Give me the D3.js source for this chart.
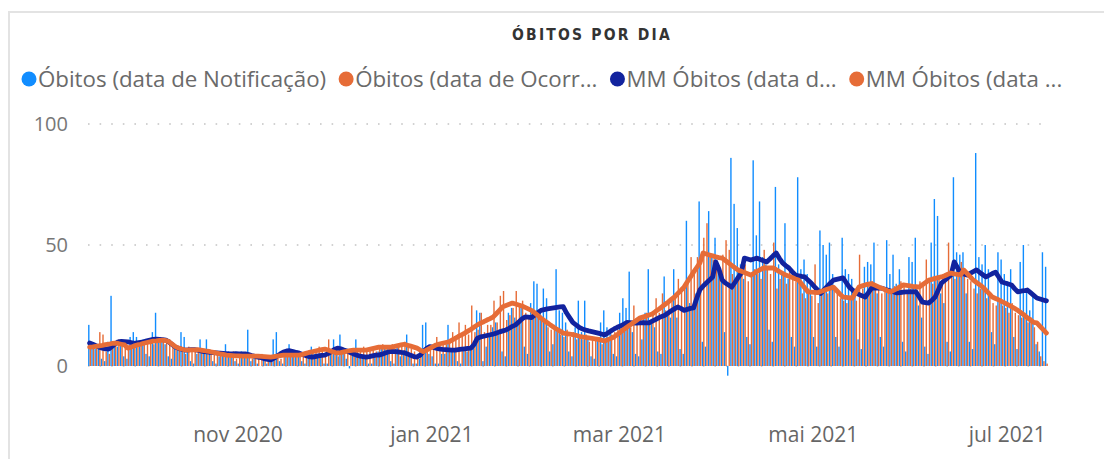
<!DOCTYPE html>
<html lang="pt">
<head>
<meta charset="UTF-8">
<title>Óbitos por dia</title>
<script src="https://d3js.org/d3.v7.min.js"></script>
<style>
  body { margin: 0; background: #fff; }
  svg { display: block; font-family: "Segoe UI", "Open Sans", "Noto Sans", sans-serif; }
</style>
</head>
<body>
<div id="chart"></div>
<script>
// first day of the series, one value per day after it
var startDay = "2020-09-15";

var obitosNotificacao = [
  17, 8, 7, 9, 3, 2, 10,   29, 9, 8, 10, 4, 3, 12,   14, 12, 10, 11, 5, 4, 14,
  22, 11, 10, 9, 4, 3, 9,  8, 14, 12, 7, 2, 1, 5,    11, 6, 11, 5, 2, 1, 4,
  5, 9, 6, 5, 2, 1, 6,     4, 15, 2, 3, 1, 0, 3,     1, 2, 11, 14, 2, 1, 5,
  9, 7, 6, 6, 2, 1, 5,     8, 5, 4, 5, 1, 1, 5,      11, 6, 13, 7, 3, -1, 6,
  11, 4, 3, 4, 1, 1, 4,    6, 7, 8, 7, 2, 1, 8,      4, 5, 13, 4, 1, 1, 3,
  17, 18, 5, 4, 1, 1, 5,   5, 17, 7, 6, 2, 1, 8,     6, 7, 9, 23, 22, 2, 8,
  13, 16, 18, 15, 6, 4, 22, 24, 20, 18, 24, 8, 5, 26, 35, 34, 22, 32, 28, 6, 9,
  40, 23, 22, 18, 6, 4, 16, 27, 14, 27, 12, 4, 3, 12, 18, 23, 16, 14, 5, 4, 22,
  28, 24, 39, 14, 5, 4, 11, 22, 40, 18, 16, 6, 5, 37, 22, 20, 40, 20, 7, 5, 60,
  26, 24, 30, 68, 10, 8, 64, 45, 53, 40, 35, 14, -4, 86, 67, 57, 42, 36, 12, 9, 85,
  54, 68, 45, 42, 15, 10, 74, 42, 38, 59, 36, 12, 8, 78, 40, 44, 38, 34, 12, 8, 56,
  50, 46, 51, 38, 12, 8, 53, 40, 38, 36, 32, 11, 7, 41, 43, 42, 51, 30, 12, 8, 52,
  38, 46, 34, 40, 10, 6, 45, 43, 53, 25, 20, 8, 5, 51, 69, 62, 30, 26, 10, 6, 78,
  47, 46, 47, 30, 10, 7, 88, 45, 42, 50, 40, 14, 9, 47, 44, 38, 35, 40, 12, 7, 43,
  50, 32, 23, 30, 9, 6, 47, 41
];

var obitosOcorrencia = [
  7, 9, 8, 14, 13, 6, 5,   8, 10, 11, 9, 8, 7, 9,    9, 8, 10, 9, 11, 10, 9,
  10, 12, 11, 10, 11, 9, 8, 7, 6, 5, 8, 7, 6, 7,     6, 7, 5, 6, 5, 6, 5,
  4, 5, 4, 6, 3, 5, 4,     4, 5, 3, 4, 4, 5, 4,      3, 4, 4, 5, 3, 4, 5,
  5, 4, 6, 5, 4, 5, 6,     6, 7, 8, 6, 5, 11, 6,     5, 4, 6, 7, 6, 5, 7,
  7, 6, 8, 6, 7, 7, 6,     8, 9, 7, 8, 9, 7, 8,      9, 10, 8, 7, 6, 5, 6,
  5, 6, 8, 9, 12, 9, 10,   9, 10, 14, 11, 18, 12, 17, 13, 25, 14, 15, 22, 14, 17,
  17, 27, 18, 29, 31, 19, 21, 24, 31, 26, 27, 22, 21, 22, 22, 20, 19, 18, 16, 15, 17,
  14, 13, 12, 15, 12, 14, 11, 12, 11, 13, 10, 12, 11, 12, 9, 10, 12, 13, 14, 15, 16,
  15, 17, 16, 25, 18, 19, 20, 22, 19, 21, 28, 22, 30, 23, 26, 28, 30, 36, 31, 32, 36,
  45, 38, 45, 44, 53, 59, 46, 44, 42, 40, 46, 52, 48, 38, 36, 40, 38, 42, 35, 37, 40,
  38, 36, 48, 40, 38, 51, 32, 36, 38, 34, 40, 36, 35, 38, 30, 28, 32, 29, 42, 26, 30,
  32, 30, 34, 33, 30, 28, 27, 26, 28, 30, 27, 46, 32, 30, 34, 35, 32, 33, 30, 32, 31,
  30, 33, 32, 35, 34, 30, 32, 33, 32, 35, 34, 44, 36, 34, 36, 37, 35, 38, 51, 40, 36,
  38, 43, 40, 36, 35, 32, 30, 32, 33, 28, 29, 26, 25, 26, 25, 24, 22, 26, 22, 21, 20,
  22, 18, 20, 16, 10, 4, 2, 1
];

var mmNotificacao = [
  9.5, 9.0, 8.4, 7.8, 7.4, 7.1, 7.0,   8.0, 9.1, 10.0, 10.2, 10.1, 10.0, 9.7,
  9.4, 9.6, 9.8, 10.0, 10.4, 10.7, 11.0, 11.1, 11.0, 10.9, 10.7, 9.9, 8.8, 7.8,
  7.3, 6.9, 6.6, 6.7, 6.8, 6.8, 6.5,   6.2, 5.9, 5.8, 5.6, 5.5, 5.4, 5.3,
  5.2, 5.1, 5.0, 5.0, 5.1, 5.0, 5.0,   5.0, 4.7, 4.3, 4.0, 3.7, 3.4, 3.0,
  2.7, 2.5, 3.2, 4.1, 5.0, 5.8, 6.2,   6.3, 6.0, 5.6, 5.3, 4.8, 4.3, 3.9,
  3.7, 3.9, 4.2, 4.4, 4.5, 5.1, 5.9,   6.8, 7.4, 7.1, 6.6, 6.2, 5.6, 5.0,
  4.5, 4.1, 3.9, 3.7, 3.9, 4.2, 4.5,   4.5, 4.9, 5.4, 5.8, 6.0, 5.9, 5.8,
  5.6, 5.5, 5.0, 4.4, 3.9, 3.7, 4.5,   6.0, 7.2, 8.0, 7.8, 7.4, 7.1, 6.9,
  6.8, 6.7, 6.6, 6.6, 6.8, 7.0, 7.1,   7.3, 7.4, 9.0, 11.5, 12.0, 12.3, 12.6,
  12.9, 13.2, 13.6, 14.1, 14.5, 14.9, 15.6, 16.4, 17.0, 18.2, 19.4, 20.3, 20.2, 20.0,
  21.0, 22.0, 23.0, 23.3, 23.6, 23.8, 24.0, 24.2, 24.4, 24.5, 22.0, 20.0, 18.0, 17.0,
  16.0, 15.3, 14.9, 14.5, 14.2, 13.9, 13.6, 13.2, 12.8, 13.6, 14.5, 15.3, 16.0, 16.6,
  17.2, 18.0, 17.9, 17.8, 17.7, 17.8, 17.9, 17.8, 17.8, 18.5, 19.2, 19.9, 20.5, 21.0,
  21.9, 22.8, 23.6, 24.4, 23.8, 23.0, 23.4, 23.8, 24.0, 28.0, 31.5, 33.0, 34.3, 35.5,
  36.8, 43.0, 40.0, 35.5, 34.3, 33.5, 32.6, 34.5, 36.5, 38.4, 44.6, 44.2, 43.8, 44.2,
  44.6, 44.0, 43.5, 43.0, 44.2, 45.5, 46.7, 44.5, 42.6, 41.5, 40.5, 39.0, 37.6, 37.3,
  37.0, 36.8, 35.5, 34.3, 32.8, 31.4, 30.0, 31.4, 32.8, 34.2, 35.5, 35.8, 36.1, 36.4,
  34.5, 32.6, 31.4, 30.2, 29.6, 29.0, 28.5, 30.3, 32.2, 32.2, 32.2, 32.2, 31.8, 31.4,
  31.0, 30.6, 30.2, 30.3, 30.5, 30.6, 30.6, 30.6, 30.6, 28.5, 26.4, 26.2, 26.0, 27.2,
  28.5, 31.4, 34.3, 35.4, 36.5, 37.6, 43.0, 40.7, 38.4, 38.0, 37.6, 38.3, 39.0, 39.7,
  38.7, 37.7, 36.8, 37.5, 38.2, 38.8, 36.8, 34.7, 34.3, 33.9, 33.5, 32.0, 30.6, 30.9,
  31.1, 31.4, 30.3, 29.2, 28.1, 27.7, 27.3, 26.9
];

var mmOcorrencia = [
  7.8, 7.9, 8.1, 8.3, 8.5, 8.8, 9.0,   9.3, 9.5, 9.3, 9.0, 8.7, 7.4, 7.8,
  8.3, 8.7, 9.0, 9.4, 9.7, 10.0, 10.3, 10.4, 10.6, 10.7, 10.5, 10.0, 9.0, 8.0,
  7.4, 7.0, 6.6, 6.6, 6.7, 6.7, 6.8,   6.6, 6.4, 6.1, 5.9, 5.6, 5.3, 5.0,
  4.8, 4.5, 4.4, 4.3, 4.2, 4.2, 4.1,   4.1, 4.1, 4.1, 4.1, 4.1, 4.0, 3.9,
  3.8, 3.7, 3.9, 4.1, 4.3, 4.5, 4.5,   4.5, 4.5, 4.5, 4.5, 4.8, 5.2, 5.6,
  5.9, 6.2, 6.5, 6.8, 7.0, 6.6, 6.1,   5.7, 5.3, 5.5, 5.8, 6.1, 6.4, 6.6,
  6.6, 6.6, 6.6, 6.6, 6.9, 7.2, 7.5,   7.8, 7.8, 7.8, 7.8, 7.8, 8.1, 8.4,
  8.7, 9.0, 8.6, 8.2, 7.8, 7.4, 6.6,   5.9, 6.6, 7.3, 8.0, 8.7, 9.1, 9.4,
  9.7, 10.0, 10.7, 11.4, 12.2, 12.9, 13.6, 14.4, 15.2, 16.1, 17.0, 17.7, 18.3, 19.0,
  19.6, 20.3, 21.7, 23.1, 24.5, 25.0, 25.5, 26.0, 25.6, 25.2, 24.8, 24.2, 23.6, 23.0,
  22.0, 20.9, 19.8, 18.8, 17.9, 16.9, 16.0, 15.2, 14.4, 13.6, 13.4, 13.2, 13.0, 12.7,
  12.3, 12.0, 11.8, 11.6, 11.4, 11.2, 11.0, 10.7, 10.3, 10.9, 11.4, 12.0, 13.0, 14.0,
  15.0, 16.0, 16.9, 17.9, 18.8, 19.8, 20.2, 20.6, 21.1, 21.5, 22.5, 23.4, 24.4, 25.4,
  26.4, 27.5, 28.5, 29.9, 31.2, 32.6, 34.7, 36.7, 38.8, 40.7, 42.6, 46.7, 46.3, 45.9,
  45.5, 45.1, 44.8, 44.6, 43.6, 42.6, 41.6, 40.6, 39.7, 39.2, 38.6, 38.1, 37.6, 38.3,
  39.1, 39.8, 40.5, 40.5, 40.5, 40.5, 39.8, 39.0, 38.3, 37.6, 37.1, 36.6, 36.0, 35.5,
  33.9, 32.2, 30.6, 30.5, 30.4, 30.3, 30.8, 31.2, 31.7, 32.1, 32.6, 31.2, 29.8, 28.5,
  28.4, 28.2, 28.1, 30.4, 32.6, 33.1, 33.5, 33.8, 34.0, 33.4, 32.8, 32.2, 31.7, 31.1,
  30.6, 31.3, 32.0, 32.8, 33.5, 33.3, 33.1, 32.9, 32.8, 32.6, 33.6, 34.5, 35.5, 35.8,
  36.2, 36.5, 36.8, 37.3, 37.9, 38.4, 38.1, 37.9, 37.6, 39.7, 38.3, 36.9, 35.5, 34.5,
  33.6, 32.6, 31.2, 29.9, 28.5, 27.9, 27.3, 26.6, 26.0, 25.3, 24.5, 23.8, 23.0, 22.0,
  21.0, 20.0, 19.0, 18.0, 17.8, 16.4, 15.0, 13.6
];

var yTicks = [0, 50, 100];
var monthTicks = ["2020-11-01", "2021-01-01", "2021-03-01", "2021-05-01", "2021-07-01"];
var monthLabels = ["nov 2020", "jan 2021", "mar 2021", "mai 2021", "jul 2021"];
var legendLabels = ["Óbitos (data de Notificação)", "Óbitos (data de Ocorr...",
                    "MM Óbitos (data d...", "MM Óbitos (data ..."];
var legendColors = ["#118DFF", "#E66C37", "#12239E", "#E66C37"];

var width = 1104, height = 459;
var parseDay = d3.utcParse("%Y-%m-%d");
var day0 = parseDay(startDay);
var dates = obitosNotificacao.map(function(d, i) { return d3.utcDay.offset(day0, i); });

var svg = d3.select("#chart").append("svg")
    .attr("width", width)
    .attr("height", height);

// visual frame
svg.append("path")
    .attr("d", "M9," + height + "V12H" + width)
    .attr("fill", "none")
    .attr("stroke", "#e3e3e3")
    .attr("stroke-width", 2);

svg.append("text")
    .attr("x", 592)
    .attr("y", 40)
    .attr("text-anchor", "middle")
    .style("font-family", "'DejaVu Sans Condensed', 'DejaVu Sans', sans-serif")
    .style("font-weight", "bold")
    .style("font-size", "15.5px")
    .style("letter-spacing", "2.2px")
    .style("fill", "#333")
    .text("ÓBITOS POR DIA");

// legend
var legend = svg.append("g").attr("transform", "translate(0,79)");
var lx = 21;
legendLabels.forEach(function(label, i) {
    legend.append("circle")
        .attr("cx", lx + 8)
        .attr("cy", 0)
        .attr("r", 7.5)
        .attr("fill", legendColors[i]);
    var t = legend.append("text")
        .attr("x", lx + 17)
        .attr("y", 0)
        .attr("dy", "0.35em")
        .style("font-size", "22.3px")
        .style("fill", "#6a6a6a")
        .text(label);
    lx += 17 + t.node().getComputedTextLength() + 12;
});

var x = d3.scaleUtc()
    .domain([day0, d3.utcDay.offset(day0, dates.length)])
    .range([88, 1048]);
var bw = x(d3.utcDay.offset(day0, 1)) - x(day0);

var y = d3.scaleLinear()
    .domain([0, 100])
    .range([366, 124]);

// dotted gridlines
svg.append("g").selectAll("line")
    .data(yTicks)
    .enter().append("line")
    .attr("x1", 88)
    .attr("x2", 1042)
    .attr("y1", function(d) { return y(d); })
    .attr("y2", function(d) { return y(d); })
    .attr("stroke", "#c4c4c4")
    .attr("stroke-width", 1.6)
    .attr("stroke-dasharray", "1.6 10");

svg.append("g").selectAll("text")
    .data(yTicks)
    .enter().append("text")
    .attr("x", 68)
    .attr("y", function(d) { return y(d); })
    .attr("dy", "0.35em")
    .attr("text-anchor", "end")
    .style("font-size", "20px")
    .style("fill", "#777")
    .text(function(d) { return d; });

var xAxis = d3.axisBottom(x)
    .tickValues(monthTicks.map(parseDay))
    .tickFormat(function(d, i) { return monthLabels[i]; })
    .tickSize(0)
    .tickPadding(0);

var gx = svg.append("g")
    .attr("transform", "translate(0,427)")
    .call(xAxis);
gx.select(".domain").remove();
gx.selectAll("text")
    .style("font-family", "'Segoe UI', 'Open Sans', sans-serif")
    .style("font-size", "21px")
    .style("fill", "#666");

// bars: notification on the left half of each day, occurrence on the right
var bars = svg.append("g");
bars.selectAll(".notif")
    .data(obitosNotificacao)
    .enter().append("rect")
    .attr("class", "notif")
    .attr("x", function(d, i) { return x(dates[i]) + 0.1; })
    .attr("width", bw * 0.44)
    .attr("y", function(d) { return y(Math.max(0, d)); })
    .attr("height", function(d) { return Math.abs(y(d) - y(0)); })
    .attr("fill", "#118DFF");

bars.selectAll(".ocorr")
    .data(obitosOcorrencia)
    .enter().append("rect")
    .attr("class", "ocorr")
    .attr("x", function(d, i) { return x(dates[i]) + bw * 0.5; })
    .attr("width", bw * 0.44)
    .attr("y", function(d) { return y(Math.max(0, d)); })
    .attr("height", function(d) { return Math.abs(y(d) - y(0)); })
    .attr("fill", "#E66C37");

var line = d3.line()
    .x(function(d, i) { return x(dates[i]) + bw / 2; })
    .y(function(d) { return y(d); });

svg.append("path")
    .datum(mmNotificacao)
    .attr("d", line)
    .attr("fill", "none")
    .attr("stroke", "#12239E")
    .attr("stroke-width", 4.8)
    .attr("stroke-linejoin", "round")
    .attr("stroke-linecap", "round");

svg.append("path")
    .datum(mmOcorrencia)
    .attr("d", line)
    .attr("fill", "none")
    .attr("stroke", "#E66C37")
    .attr("stroke-width", 4.8)
    .attr("stroke-linejoin", "round")
    .attr("stroke-linecap", "round");
</script>
</body>
</html>
